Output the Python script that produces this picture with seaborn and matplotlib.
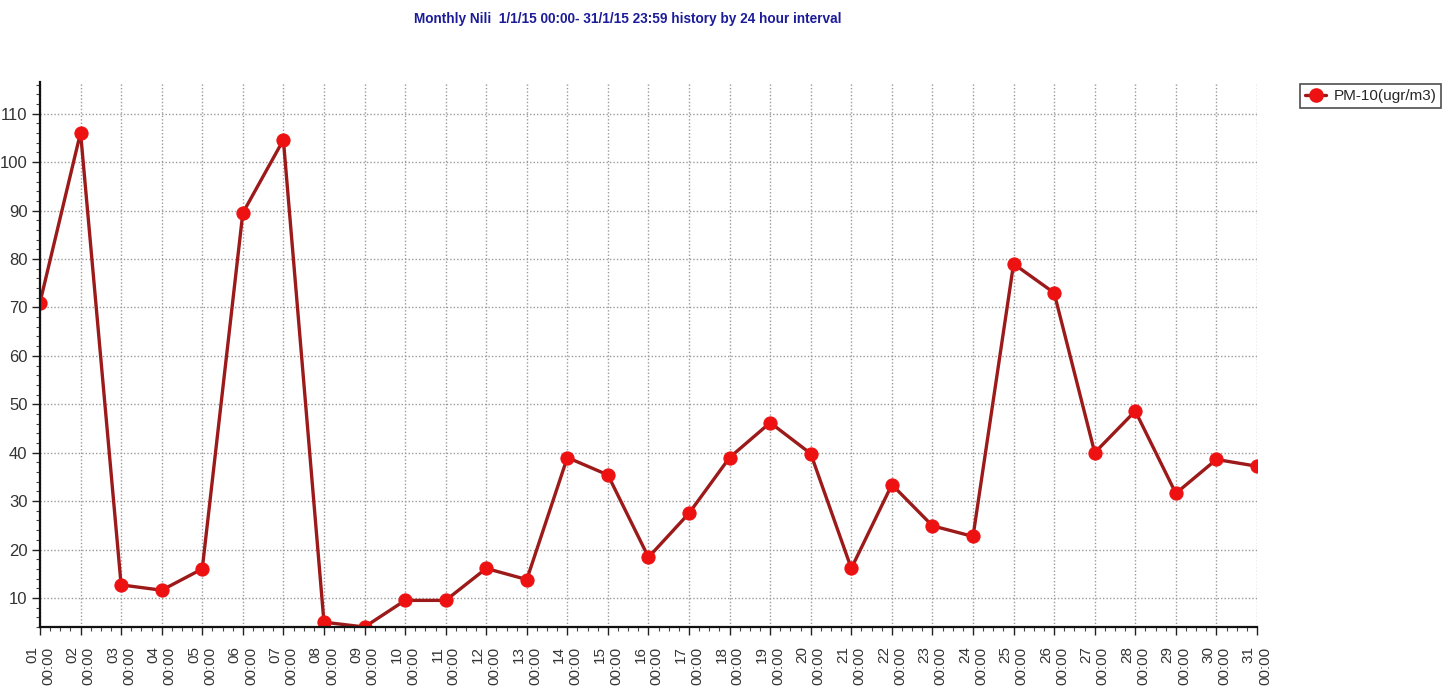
import matplotlib
matplotlib.use("Agg")
import matplotlib.pyplot as plt
import seaborn as sns
import pandas as pd
from matplotlib.ticker import AutoMinorLocator
from matplotlib.lines import Line2D

days = list(range(1, 32))
pm10 = [71.0, 106.1, 12.7, 11.6, 16.0, 89.5, 104.6, 5.0, 4.0, 9.5, 9.5, 16.1, 13.8,
        39.0, 35.4, 18.4, 27.5, 39.0, 46.2, 39.8, 16.1, 33.4, 24.9, 22.7, 79.0,
        73.0, 40.0, 48.6, 31.6, 38.6, 37.2]
tick_labels = [f"{d:02d}\n00:00" for d in days]
title = "Monthly Nili  1/1/15 00:00- 31/1/15 23:59 history by 24 hour interval"
series_name = "PM-10(ugr/m3)"

df = pd.DataFrame({"day": days, "value": pm10, "series": series_name})

sns.set_style("white")
plt.rcParams["font.family"] = ["Liberation Sans", "DejaVu Sans"]

fig = plt.figure(figsize=(14.54, 6.91), dpi=100)
ax = fig.add_axes([0.0275, 0.0926, 0.837, 0.7884])

line_col = "#9c1a1a"
mark_col = "#ee1111"

sns.lineplot(data=df, x="day", y="value", hue="series", palette=[line_col],
             marker="o", markersize=9.5, markerfacecolor=mark_col,
             markeredgecolor=mark_col, linewidth=2.4, ax=ax, legend=False)

ax.set_xlim(1, 31)
ax.set_ylim(4, 116.5)
ax.set_xticks(days)
ax.set_xticklabels(tick_labels, rotation=90, fontsize=11, color="#333333",
                   multialignment="right")
ax.set_yticks(range(10, 111, 10))
ax.tick_params(axis="y", labelsize=12, labelcolor="#333333", pad=3)
ax.tick_params(axis="x", pad=8)
ax.xaxis.set_minor_locator(AutoMinorLocator(4))
ax.yaxis.set_minor_locator(AutoMinorLocator(5))
ax.tick_params(which="major", direction="out", length=6, width=1, color="#222222",
               left=True, bottom=True)
ax.tick_params(which="minor", direction="out", length=3, width=0.8, color="#444444",
               left=True, bottom=True)
ax.set_xlabel("")
ax.set_ylabel("")
ax.grid(True, which="major", linestyle=(0, (1, 1.5)), color="#9a9a9a", linewidth=1)
for s in ["top", "right"]:
    ax.spines[s].set_visible(False)
for s in ["left", "bottom"]:
    ax.spines[s].set_color("#111111")
    ax.spines[s].set_linewidth(1.6)

fig.text(0.432, 0.972, title, ha="center", va="center", fontsize=9.8,
         color="#1c1c99", fontweight="bold")

h = Line2D([], [], color=line_col, linewidth=2.4, marker="o", markersize=9.5,
           markerfacecolor=mark_col, markeredgecolor=mark_col)
leg = fig.legend([h], [series_name], loc="upper left", bbox_to_anchor=(0.889, 0.889),
                 frameon=True, fontsize=11, fancybox=False, handlelength=1.4,
                 handletextpad=0.5, borderpad=0.3, edgecolor="#222222")
leg.get_frame().set_linewidth(1.2)

fig.savefig("out.png", dpi=100)
